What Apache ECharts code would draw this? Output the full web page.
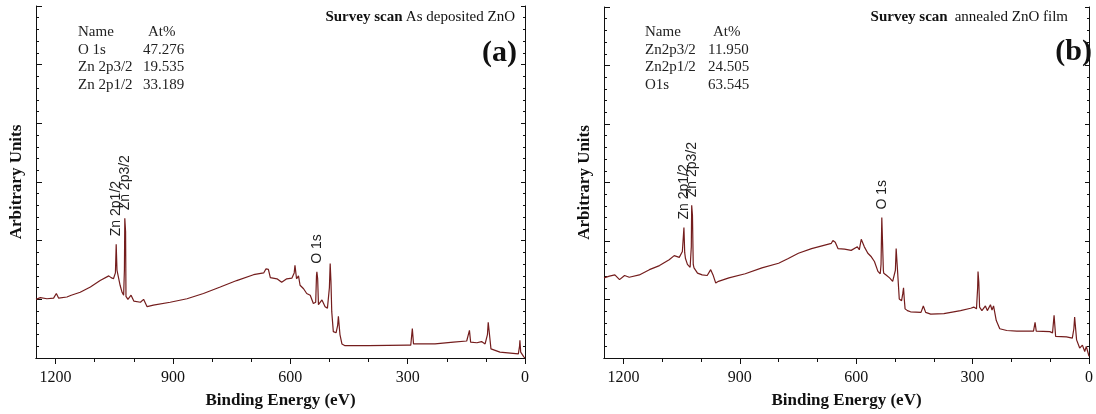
<!DOCTYPE html>
<html><head><meta charset="utf-8">
<script src="https://cdn.jsdelivr.net/npm/echarts@6/dist/echarts.min.js"></script>
<style>html,body{margin:0;padding:0;background:#fff}#c{width:1096px;height:414px}</style>
</head><body><div id="c"></div>
<script>
// ---- Data ----
const energyA = [1250,1239,1222,1205,1198,1192,1171,1160,1137,1111,1086,1064,1058,1052,1047,1045,1043,1040,1035,1030,1026,1024,1023,1021,1020,1015,1007,1000,983,975,966,950,907,864,822,779,737,694,668,662,656,651,634,622,609,596,590,588,584,579,575,566,558,549,541,535,533,532,530,528,519,511,505,500,498,496,494,490,483,479,477,475,473,468,460,400,300,292,288,285,230,183,149,145,142,139,123,111,102,96,94,91,87,64,17,14,13,11,3,0];
const countsA = [1.00,1.03,1.01,1.02,1.10,1.02,1.04,1.07,1.12,1.21,1.32,1.40,1.37,1.35,1.45,1.94,1.50,1.40,1.24,1.12,1.07,1.50,2.38,2.15,1.05,1.00,1.07,0.97,0.95,1.00,0.875,0.90,0.95,1.01,1.10,1.21,1.32,1.42,1.45,1.52,1.51,1.37,1.35,1.29,1.35,1.36,1.45,1.58,1.35,1.40,1.24,1.18,1.10,1.07,0.93,0.95,1.40,1.47,1.35,0.91,0.99,0.875,0.85,1.20,1.61,1.30,0.79,0.45,0.43,0.55,0.71,0.55,0.40,0.24,0.21,0.21,0.22,0.22,0.50,0.24,0.24,0.27,0.29,0.30,0.47,0.27,0.26,0.28,0.24,0.40,0.61,0.58,0.155,0.10,0.07,0.20,0.30,0.10,0.02,0.00];
const energyB = [1250,1236,1222,1210,1197,1185,1159,1133,1107,1082,1069,1056,1048,1046,1044,1042,1040,1035,1028,1025,1024,1022,1020,1018,1009,997,984,975,969,962,955,928,886,843,800,775,749,715,681,664,660,654,647,630,613,597,592,587,579,570,561,553,544,538,536,534,532,530,529,523,514,506,499,497,494,489,483,480,478,476,474,468,460,433,427,421,408,374,331,305,297,290,287,286,284,282,276,267,262,254,250,246,239,230,212,186,143,139,136,101,94,90,86,58,43,39,37,32,24,17,11,7,0];
const countsB = [1.37,1.40,1.42,1.34,1.41,1.38,1.42,1.51,1.58,1.68,1.75,1.72,1.82,1.85,2.23,1.80,1.70,1.60,1.55,1.90,2.61,2.44,1.60,1.54,1.45,1.42,1.41,1.51,1.42,1.28,1.31,1.37,1.44,1.54,1.62,1.70,1.79,1.87,1.93,1.96,2.01,1.98,1.87,1.86,1.84,1.90,1.85,2.03,1.90,1.79,1.73,1.65,1.48,1.44,1.60,2.40,2.38,1.50,1.45,1.42,1.37,1.31,1.50,1.87,1.55,1.01,0.98,1.10,1.20,1.00,0.84,0.81,0.79,0.78,0.89,0.78,0.75,0.76,0.81,0.85,0.87,0.84,1.20,1.48,1.30,0.87,0.81,0.89,0.81,0.91,0.82,0.89,0.64,0.50,0.47,0.46,0.46,0.61,0.46,0.45,0.43,0.73,0.37,0.36,0.34,0.50,0.70,0.31,0.17,0.22,0.11,0.20,0.03];
const majorTicks = [0, 300, 600, 900, 1200];
const minorTicks = [100, 200, 400, 500, 700, 800, 1000, 1100];
const peaksA = [['Zn 2p1/2', 1045], ['Zn 2p3/2', 1023], ['O 1s', 532]];
const peaksB = [['Zn 2p1/2', 1044], ['Zn 2p3/2', 1024], ['O 1s', 534]];
const tableNamesA = ['O 1s', 'Zn 2p3/2', 'Zn 2p1/2'];
const tableValuesA = ['47.276', '19.535', '33.189'];
const tableNamesB = ['Zn2p3/2', 'Zn2p1/2', 'O1s'];
const tableValuesB = ['11.950', '24.505', '63.545'];
const titleBoldA = 'Survey scan', titleRestA = 'As deposited ZnO';
const titleBoldB = 'Survey scan', titleRestB = ' annealed ZnO film';
const panelTags = ['(a)', '(b)'];
const xTitle = 'Binding Energy (eV)';
const yTitle = 'Arbitrary Units';

// ---- Chart ----
const SERIF = '"Liberation Serif", "Times New Roman", serif';
const SANS = '"Liberation Sans", Arial, sans-serif';
const AX = '#111';
const LINE = '#741d1d';
const grids = [
  {left: 36, top: 6, width: 489, height: 355},
  {left: 604, top: 7, width: 489, height: 355}
];

const xAxes = [], yAxes = [], series = [], graphic = [];
grids.forEach((g, i) => {
  xAxes.push({
    gridIndex: i, type: 'value', inverse: true, min: 0, max: 1250, position: 'bottom',
    axisLine: {show: true, onZero: false, lineStyle: {color: AX, width: 1}},
    axisTick: {show: true, customValues: majorTicks, length: 6, lineStyle: {color: AX}},
    axisLabel: {show: true, customValues: majorTicks, margin: 12, fontFamily: SERIF, fontSize: 16, color: AX,
      formatter: v => String(v)},
    splitLine: {show: false},
    name: xTitle, nameLocation: 'middle', nameGap: 34,
    nameTextStyle: {fontFamily: SERIF, fontSize: 17, fontWeight: 'bold', color: AX}
  });
  xAxes.push({
    gridIndex: i, type: 'value', inverse: true, min: 0, max: 1250, position: 'bottom',
    axisLine: {show: false},
    axisTick: {show: true, customValues: minorTicks, length: 4, lineStyle: {color: AX}},
    axisLabel: {show: false}, splitLine: {show: false}
  });
  xAxes.push({
    gridIndex: i, type: 'value', inverse: true, min: 0, max: 1250, position: 'top',
    axisLine: {show: true, lineStyle: {color: AX, width: 1}},
    axisTick: {show: false}, axisLabel: {show: false}, splitLine: {show: false}
  });
  yAxes.push({
    gridIndex: i, type: 'value', min: 0, max: 6, interval: 1, position: 'left',
    axisLine: {show: true, onZero: false, lineStyle: {color: AX, width: 1}},
    axisTick: {show: true, inside: true, length: 6, lineStyle: {color: AX}},
    minorTick: {show: true, splitNumber: 5, length: 3, lineStyle: {color: AX}},
    axisLabel: {show: false}, splitLine: {show: false},
    name: yTitle, nameLocation: 'middle', nameGap: 11,
    nameTextStyle: {fontFamily: SERIF, fontSize: 17, fontWeight: 'bold', color: AX}
  });
  yAxes.push({
    gridIndex: i, type: 'value', min: 0, max: 6, interval: 1, position: 'right',
    axisLine: {show: true, onZero: false, lineStyle: {color: AX, width: 1}},
    axisTick: {show: true, inside: true, length: 4, lineStyle: {color: AX}},
    minorTick: {show: true, splitNumber: 5, length: 2, lineStyle: {color: AX}},
    axisLabel: {show: false}, splitLine: {show: false}
  });
});

function makeSeries(idx, energy, counts, peaks) {
  const data = energy.map((e, k) => [e, counts[k]]);
  const marks = peaks.map(p => {
    const k = energy.indexOf(p[1]);
    return {name: p[0], coord: [p[1], counts[k]]};
  });
  return {
    type: 'line', xAxisIndex: idx * 3, yAxisIndex: idx * 2, data,
    showSymbol: false, symbol: 'none', animation: false, silent: true,
    lineStyle: {color: LINE, width: 1.2},
    markPoint: {
      symbol: 'circle', symbolSize: 0, silent: true, animation: false,
      label: {show: true, position: 'top', distance: 8, rotate: 90, align: 'left', verticalAlign: 'middle',
        formatter: '{b}', fontFamily: SANS, fontSize: 14, color: '#222'},
      data: marks
    }
  };
}
series.push(makeSeries(0, energyA, countsA, peaksA));
series.push(makeSeries(1, energyB, countsB, peaksB));

function addTable(x0, xv, names, values) {
  const font = '15px ' + SERIF;
  const rowY = k => 33 + 17.4 * k;
  graphic.push({type: 'text', left: x0, top: rowY(0) - 8, style: {text: 'Name', font, fill: '#222'}});
  graphic.push({type: 'text', left: xv + 5, top: rowY(0) - 8, style: {text: 'At%', font, fill: '#222'}});
  names.forEach((n, k) => {
    graphic.push({type: 'text', left: x0, top: rowY(k + 1) - 8, style: {text: n, font, fill: '#222'}});
    graphic.push({type: 'text', left: xv, top: rowY(k + 1) - 8, style: {text: values[k], font, fill: '#222'}});
  });
}
addTable(78, 143, tableNamesA, tableValuesA);
addTable(645, 708, tableNamesB, tableValuesB);

function addTitle(rightX, bold, rest) {
  graphic.push({type: 'text', right: 1096 - rightX, top: 10, style: {
    text: '{b|' + bold + '} {r|' + rest + '}', fill: '#111',
    rich: {b: {font: 'bold 15px ' + SERIF, fill: '#111'}, r: {font: '15px ' + SERIF, fill: '#111'}}
  }});
}
addTitle(515, titleBoldA, titleRestA);
addTitle(1068, titleBoldB, titleRestB);
graphic.push({type: 'text', right: 1096 - 517, top: 38, style: {text: panelTags[0], font: 'bold 30px ' + SERIF, fill: '#111'}});
graphic.push({type: 'text', right: 1096 - 1092, top: 37, style: {text: panelTags[1], font: 'bold 30px ' + SERIF, fill: '#111'}});

const chart = echarts.init(document.getElementById('c'), null, {renderer: 'canvas'});
chart.setOption({
  animation: false,
  backgroundColor: '#fff',
  grid: grids,
  xAxis: xAxes,
  yAxis: yAxes,
  series,
  graphic
});
</script></body></html>
